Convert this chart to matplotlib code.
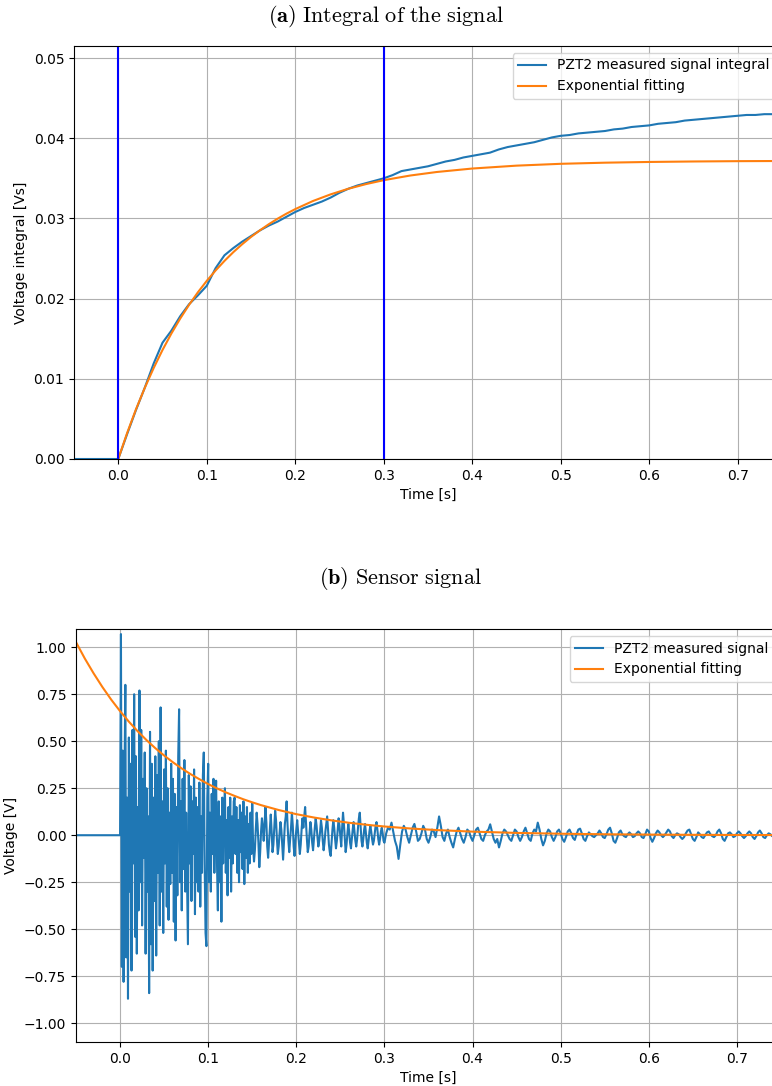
import numpy as np
import matplotlib
matplotlib.use("Agg")
import matplotlib.pyplot as plt

plt.rcParams["mathtext.fontset"] = "cm"
plt.rcParams["font.size"] = 10

# ---------------------------------------------------------------- (a) integral
integral_time = np.concatenate([[-0.05], np.round(np.arange(0, 76) * 0.01, 2)])
integral_measured = [
    0.0,
    0.0000, 0.0031, 0.0061, 0.0089, 0.0119, 0.0145, 0.0160, 0.0178, 0.0193, 0.0204,
    0.0216, 0.0238, 0.0254, 0.0263, 0.0271, 0.0278, 0.0285, 0.0291, 0.0296, 0.0302,
    0.0308, 0.0313, 0.0317, 0.0321, 0.0326, 0.0332, 0.0337, 0.0341, 0.0344, 0.0347,
    0.0350, 0.0354, 0.0359, 0.0361, 0.0363, 0.0365, 0.0368, 0.0371, 0.0373, 0.0376,
    0.0378, 0.0380, 0.0382, 0.0386, 0.0389, 0.0391, 0.0393, 0.0395, 0.0398, 0.0401,
    0.0403, 0.0404, 0.0406, 0.0407, 0.0408, 0.0409, 0.0411, 0.0412, 0.0414, 0.0415,
    0.0416, 0.0418, 0.0419, 0.0420, 0.0422, 0.0423, 0.0424, 0.0425, 0.0426, 0.0427,
    0.0428, 0.0429, 0.0429, 0.0430, 0.0430, 0.0430,
]

fit_int_time = [0.0, 0.01, 0.02, 0.03, 0.04, 0.05, 0.06, 0.07, 0.08, 0.09, 0.10,
                0.11, 0.12, 0.13, 0.14, 0.15, 0.16, 0.17, 0.18, 0.19, 0.20, 0.22,
                0.24, 0.26, 0.28, 0.30, 0.33, 0.36, 0.40, 0.45, 0.50, 0.55, 0.60,
                0.65, 0.70, 0.75]
fit_int_value = [0.0, 0.00323, 0.00619, 0.00888, 0.01134, 0.01359, 0.01564, 0.01751,
                 0.01922, 0.02079, 0.02221, 0.02351, 0.02470, 0.02579, 0.02678,
                 0.02769, 0.02851, 0.02927, 0.02996, 0.03059, 0.03116, 0.03217,
                 0.03300, 0.03370, 0.03428, 0.03477, 0.03535, 0.03579, 0.03622,
                 0.03658, 0.03681, 0.03695, 0.03704, 0.03710, 0.03714, 0.03716]

window_marks = [0.0, 0.3]

# ---------------------------------------------------------------- (b) signal
# sensor samples in millivolts: 1 ms spacing from 0 to 0.300 s
signal_fast_mv = [
    0, 1070, -700, 450, -780, 300, 800, -650, 200, -870,
    520, -300, 380, -720, 560, -150, 750, -540, 420, -630,
    150, -400, 770, -250, 560, -480, 300, -120, 440, -630,
    250, -300, 100, -840, 550, -580, 380, -720, 200, -350,
    420, -640, 320, -200, 500, -480, 680, -300, 180, -520,
    350, -150, 450, -380, 250, -450, 120, -260, 380, -200,
    300, -460, 220, -560, 150, -320, 420, 670, -250, 180,
    -400, 300, -180, 400, -300, 120, -220, -580, 320, -150,
    260, -350, 180, -100, 350, -420, 200, -250, 150, -300,
    280, -380, 100, -200, 320, 440, -150, -520, -590, 200,
    380, -250, 120, -300, 220, -100, 300, -200, 150, 290,
    -150, -400, 180, -250, 100, -460, 200, -150, 120, 250,
    -200, 80, -320, 150, -120, 200, -300, 100, -150, 180,
    200, -100, 150, -200, 80, -250, 160, -90, 120, -180,
    180, -260, 100, -120, 150, -200, 60, -150, 120, -100,
    170,
    -60, -140, -80, 30, 120, 60, -40, -170, -90, 20,
    90, 40, -30, 60, 150, 70, -60, -120, -40, 50,
    110, 20, -90, -50, 40, 130, 80, -20, -100, -60,
    10, 70, 30, -50, -130, -40, 60, 100, 180, 60,
    -30, -90, -20, 40, 120, 50, -60, -110, -30, 30,
    80, 20, -40, -100, -50, 30, 90, 40, 100, 150,
    60, -20, -90, -60, 10, 70, 30, -40, -80, -20,
    40, 90, 50, -10, -60, -30, 20, 80, 40, -30,
    -80, -40, 20, 60, 100, 30, -50, -90, -110, -40,
    30, 80, 40, -20, -70, -30, 30, 90, 50, -10,
    -60, 40, 120, 60, -20, -90, -50, 10, 60, 20,
    -40, -70, -20, 30, 70, 20, -30, -60, -20, 40,
    90, 120, 40, -30, -60, -20, 30, 60, 10, -40,
    -70, -30, 20, 50, 20, -20, -50, -30, 10, 50,
    70, 30, -20, -50, -20, 20, 40, 10, -30, -40,
]
# 2 ms spacing from 0.302 s to 0.750 s
signal_slow_mv = [
    10, 40, 30, 67, 20, -30, -60, -126, -50, 20,
    50, 30, -10, -40, 0, 40, 60, 20, -30, -20,
    10, 50, 30, -20, -40, -10, 30, 20, -10, 40,
    100, 50, -10, -30, 10, 30, -10, -40, -65, -20,
    20, 40, 10, -20, -40, -10, 30, 20, -10, -30,
    0, 30, 40, 10, -20, -30, 0, 20, 30, 58,
    20, -20, -40, -20, -65, -30, 10, 30, 20, 0,
    -20, -30, 0, 30, 20, -10, -30, -10, 20, 40,
    10, -20, -30, 10, 30, 20, 67, 30, -20, -54,
    -30, 10, 30, 20, -10, -30, -10, 20, 30, 10,
    -20, -35, -10, 20, 30, 10, -15, -25, 5, 30,
    35, 10, -20, -30, -5, 15, 5, -5, -10, 0,
    10, 25, 10, -10, -15, 5, 30, 40, 10, -30,
    -40, -15, 15, 25, 5, -5, -10, 5, 15, 5,
    -10, -5, 10, 20, 10, -10, -15, 5, 30, 20,
    -15, -35, -15, 10, 25, 15, 0, -10, 0, 15,
    30, 20, -5, -15, 0, 10, 5, -10, -20, -10,
    10, 25, 30, 5, -20, -30, -10, 15, 5, -10,
    -15, 0, 15, 20, 5, -5, -10, 0, 20, 30,
    10, -20, -30, -10, 10, 15, 5, -10, -5, 10,
    20, 10, -5, -15, -5, 10, 20, 10, -10, -20,
    -5, 15, 25, 10, -10, -15, 0, 10, 5, -5,
    0, 15, 20, 5, -10,
]
signal_time = np.concatenate([
    [-0.05],
    np.arange(len(signal_fast_mv)) * 0.001,
    0.302 + np.arange(len(signal_slow_mv)) * 0.002,
])
signal_volts = np.concatenate([[0.0], signal_fast_mv, signal_slow_mv]) / 1000.0

fit_sig_time = [-0.05, -0.04, -0.03, -0.02, -0.01, 0.0, 0.01, 0.02, 0.03, 0.04,
                0.05, 0.06, 0.07, 0.08, 0.09, 0.10, 0.11, 0.12, 0.13, 0.14, 0.15,
                0.16, 0.17, 0.18, 0.19, 0.20, 0.22, 0.24, 0.26, 0.28, 0.30, 0.33,
                0.36, 0.40, 0.45, 0.50, 0.55, 0.60, 0.65, 0.70, 0.75]
fit_sig_value = [1.027, 0.940, 0.861, 0.788, 0.721, 0.660, 0.604, 0.553, 0.506,
                 0.463, 0.424, 0.388, 0.355, 0.325, 0.298, 0.272, 0.249, 0.228,
                 0.209, 0.191, 0.175, 0.160, 0.147, 0.134, 0.123, 0.112, 0.0942,
                 0.0789, 0.0661, 0.0554, 0.0464, 0.0356, 0.0273, 0.0191, 0.0123,
                 0.0079, 0.0051, 0.0033, 0.0021, 0.0013, 0.0009]

# ---------------------------------------------------------------- figure
W, H = 772, 1086
fig = plt.figure(figsize=(W / 100, H / 100), dpi=100)


def px_axes(left, top, right, bottom):
    return fig.add_axes([left / W, 1 - bottom / H, (right - left) / W, (bottom - top) / H])


blue, orange = "#1f77b4", "#ff7f0e"

ax1 = px_axes(74, 46, 782, 459)
ax1.plot(integral_time, integral_measured, color=blue, lw=1.5,
         label="PZT2 measured signal integral")
ax1.plot(fit_int_time, fit_int_value, color=orange, lw=1.5,
         label="Exponential fitting")
for xm in window_marks:
    ax1.axvline(xm, color="blue", lw=1.5)
ax1.set_xlim(-0.05, 0.75)
ax1.set_ylim(0.0, 0.0515)
ax1.set_yticks([0.0, 0.01, 0.02, 0.03, 0.04, 0.05])
ax1.set_yticklabels(["0.00", "0.01", "0.02", "0.03", "0.04", "0.05"])
ax1.set_xticks([0.0, 0.1, 0.2, 0.3, 0.4, 0.5, 0.6, 0.7])
ax1.grid(True, color="#b0b0b0", lw=0.8)
ax1.set_axisbelow(True)
ax1.set_xlabel("Time [s]")
ax1.set_ylabel("Voltage integral [Vs]")
ax1.legend(loc="upper right")

ax2 = px_axes(76, 629, 781, 1042)
ax2.plot(signal_time, signal_volts, color=blue, lw=1.5, label="PZT2 measured signal")
ax2.plot(fit_sig_time, fit_sig_value, color=orange, lw=1.5, label="Exponential fitting")
ax2.set_xlim(-0.05, 0.75)
ax2.set_ylim(-1.10, 1.097)
ax2.set_yticks([-1.0, -0.75, -0.5, -0.25, 0.0, 0.25, 0.5, 0.75, 1.0])
ax2.set_yticklabels(["\u22121.00", "\u22120.75", "\u22120.50", "\u22120.25", "0.00",
                     "0.25", "0.50", "0.75", "1.00"])
ax2.set_xticks([0.0, 0.1, 0.2, 0.3, 0.4, 0.5, 0.6, 0.7])
ax2.grid(True, color="#b0b0b0", lw=0.8)
ax2.set_axisbelow(True)
ax2.set_xlabel("Time [s]")
ax2.set_ylabel("Voltage [V]")
ax2.legend(loc="upper right")

fig.text(386 / W, 1 - 16 / H, r"$\mathbf{(a)}\ \mathrm{Integral\ of\ the\ signal}$",
         ha="center", va="center", fontsize=16)
fig.text(400 / W, 1 - 578 / H, r"$\mathbf{(b)}\ \mathrm{Sensor\ signal}$",
         ha="center", va="center", fontsize=16)

fig.savefig("out.png", dpi=100)
